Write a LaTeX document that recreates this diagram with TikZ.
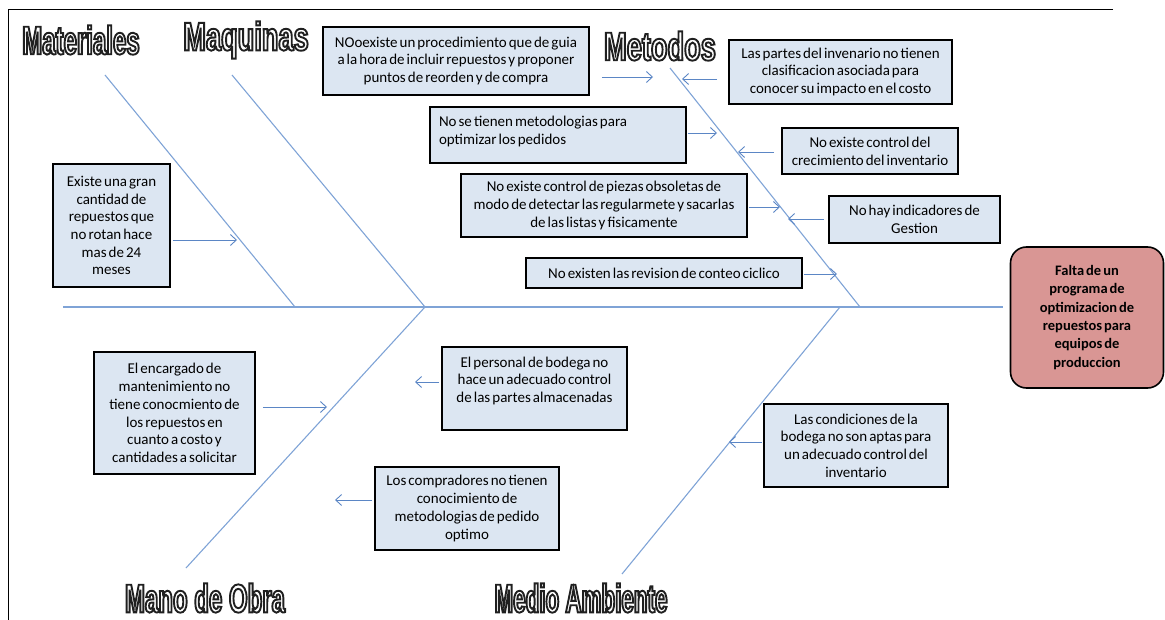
\documentclass[tikz,border=0pt]{standalone}
\usepackage{fontspec}
\setmainfont[WordSpace=0.6]{Carlito}
\newfontfamily\headnarrow[FakeStretch=0.56]{Liberation Sans}
\newfontfamily\headmid[FakeStretch=0.60]{Liberation Sans}
\newfontfamily\headwide[FakeStretch=0.68]{Liberation Sans}
\usetikzlibrary{arrows.meta,calc}

\definecolor{boxblue}{HTML}{DCE6F2}
\definecolor{effectred}{HTML}{D99694}
\definecolor{boneblue}{HTML}{7FA3D6}
\definecolor{arrowblue}{HTML}{5B86C5}
\definecolor{outlinegray}{HTML}{202020}

% hollow (stroked only) lettering for the category headings
\newcommand\hollow[1]{\special{pdf:literal direct 1 Tr 1.9 w}#1\special{pdf:literal direct 0 Tr}}

\tikzset{
  cause/.style={draw=black, line width=1.6pt, fill=boxblue, align=center,
    inner sep=3pt, font=\fontsize{15}{17.7}\selectfont},
  effectbox/.style={draw=black, line width=1.6pt, fill=effectred, align=center,
    rounded corners=16pt, font=\fontsize{14.5}{18.3}\selectfont\bfseries},
  bone/.style={draw=boneblue, line width=1.1pt},
  feed/.style={draw=arrowblue, line width=0.9pt,
    -{Straight Barb[length=6pt,width=11pt]}},
  frameline/.style={draw=black, line width=1pt},
  headtext/.style={inner sep=0pt, text=outlinegray},
}
\newcommand\headsize{\fontsize{40}{40}}

\begin{document}
\begin{tikzpicture}[x=1pt, y=-1pt]
\useasboundingbox (0,0) rectangle (1165,620);

% page frame
\draw[frameline] (1113,10) -- (8,10) -- (8,620);

% effect
\node[effectbox, minimum width=153, minimum height=141] (effect) at (1087,317.5)
  {Falta de un\\programa de\\optimizacion de\\repuestos para\\equipos de\\produccion};

% spine
\coordinate (spineL) at (63,307);
\draw[bone] (spineL) -- ($(effect.west |- spineL)+(-7,0)$);

% bones
\coordinate (matA) at (105,75);  \coordinate (matB) at (295,307);
\coordinate (maqA) at (232,75);  \coordinate (maqB) at (425,307);
\coordinate (metA) at (670,68);  \coordinate (metB) at (860,307);
\coordinate (manA) at (425,307); \coordinate (manB) at (186,568);
\coordinate (medA) at (840,307); \coordinate (medB) at (622,574);
\draw[bone] (matA) -- (matB);
\draw[bone] (maqA) -- (maqB);
\draw[bone] (metA) -- (metB);
\draw[bone] (manA) -- (manB);
\draw[bone] (medA) -- (medB);

% headings
\node[headtext, font=\headsize\headmid\bfseries]    (hMat) at (81,40)   {\hollow{Materiales}};
\node[headtext, font=\headsize\headwide\bfseries]   (hMaq) at (246,40)  {\hollow{Maquinas}};
\node[headtext, font=\headsize\headwide\bfseries]   (hMet) at (660,46)  {\hollow{Metodos}};
\node[headtext, font=\headsize\headmid\bfseries]    (hMan) at (205,598) {\hollow{Mano de Obra}};
\node[headtext, font=\headsize\headnarrow\bfseries] (hMed) at (581,598) {\hollow{Medio Ambiente}};

% causes
\node[cause, minimum width=266, minimum height=68] (b1) at (456,61)
  {NOoexiste un procedimiento que de guia\\a la hora de incluir repuestos y proponer\\puntos de reorden y de compra};
\node[cause, minimum width=223, minimum height=64] (b2) at (840.5,72)
  {Las partes del invenario no tienen\\clasificacion asociada para\\conocer su impacto en el costo};
\node[cause, minimum width=256, minimum height=56, align=flush left, text width=238,
  inner sep=9pt] (b3) at (558,135)
  {No se tienen metodologias para\\optimizar los pedidos\\[-8pt]\mbox{}};
\node[cause, minimum width=176, minimum height=46] (b4) at (870,151)
  {No existe control del\\crecimiento del inventario};
\node[cause, minimum width=286, minimum height=63] (b5) at (604,205.5)
  {No existe control de piezas obsoletas de\\modo de detectar las regularmete y sacarlas\\de las listas y fisicamente};
\node[cause, minimum width=171, minimum height=47] (b6) at (914.5,219.5)
  {No hay indicadores de\\Gestion};
\node[cause, minimum width=276, minimum height=30] (b7) at (664,273)
  {No existen las revision de conteo ciclico};
\node[cause, minimum width=117, minimum height=123] (b8) at (111.5,225.5)
  {Existe una gran\\cantidad de\\repuestos que\\no rotan hace\\mas de 24\\meses};
\node[cause, minimum width=161, minimum height=122] (b10) at (174.5,413)
  {El encargado de\\mantenimiento no\\tiene conocmiento de\\los repuestos en\\cuanto a costo y\\cantidades a solicitar};
\node[cause, minimum width=185, minimum height=83] (b11) at (534.5,388.5)
  {El personal de bodega no\\hace un adecuado control\\de las partes almacenadas\\\mbox{}};
\node[cause, minimum width=184, minimum height=83] (b12) at (856,445.5)
  {Las condiciones de la\\bodega no son aptas para\\un adecuado control del\\inventario};
\node[cause, minimum width=184, minimum height=83] (b13) at (467,508.5)
  {Los compradores no tienen\\conocimiento de\\metodologias de pedido\\optimo};

% arrow tips on the bones
\coordinate (t1) at (653,77);
\coordinate (t2) at (682,79);
\coordinate (t3) at (717,133);
\coordinate (t4) at (738,152);
\coordinate (t5) at (780,207);
\coordinate (t6) at (788,219);
\coordinate (t7) at (837,274);
\coordinate (t8) at (237,240);
\coordinate (t10) at (327,407);
\coordinate (t11) at (415,382);
\coordinate (t12) at (729,442);
\coordinate (t13) at (335,500);

\draw[feed] ($(b1.east |- t1)+(12,0)$) -- (t1);
\draw[feed] ($(b2.west |- t2)+(-11,0)$) -- (t2);
\draw[feed] ($(b3.east |- t3)+(1,0)$) -- (t3);
\draw[feed] ($(b4.west |- t4)+(-7,0)$) -- (t4);
\draw[feed] ($(b5.east |- t5)+(1,0)$) -- (t5);
\draw[feed] ($(b6.west |- t6)+(-4,0)$) -- (t6);
\draw[feed] ($(b7.east |- t7)+(1,0)$) -- (t7);
\draw[feed] ($(b8.east |- t8)+(2,0)$) -- (t8);
\draw[feed] ($(b10.east |- t10)+(7,0)$) -- (t10);
\draw[feed] ($(b11.west |- t11)+(-2,0)$) -- (t11);
\draw[feed] ($(b12.west |- t12)+(-1,0)$) -- (t12);
\draw[feed] ($(b13.west |- t13)+(-2,0)$) -- (t13);
\end{tikzpicture}
\end{document}
